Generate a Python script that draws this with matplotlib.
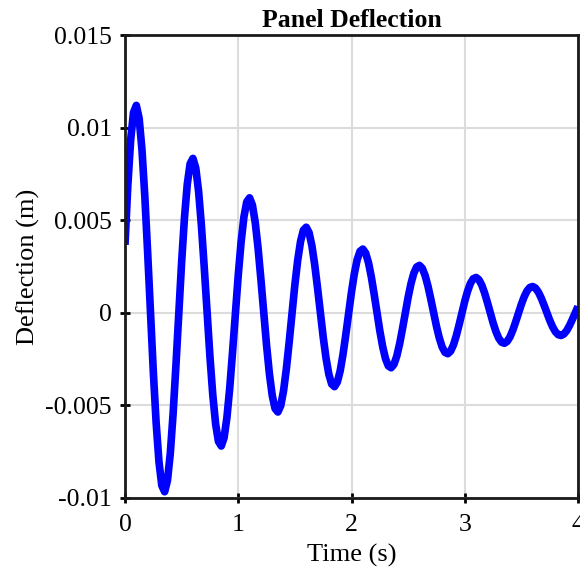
import numpy as np
import matplotlib
matplotlib.use("Agg")
import matplotlib.pyplot as plt

# --- Data (deflection in mm, every 0.025 s) ---
t_start, t_end, n_points = 0.0, 4.0, 161
deflection_mm = [
    3.671, 6.881, 9.332, 10.810, 11.199, 10.496, 8.797, 6.298, 3.262, 0.0,
    -3.167, -5.938, -8.052, -9.328, -9.664, -9.056, -7.590, -5.434, -2.816, 0.0,
    2.733, 5.123, 6.948, 8.048, 8.338, 7.815, 6.550, 4.689, 2.429, 0.0,
    -2.358, -4.421, -5.995, -6.945, -7.195, -6.743, -5.651, -4.046, -2.096, 0.0,
    2.035, 3.814, 5.173, 5.992, 6.208, 5.818, 4.876, 3.491, 1.808, 0.0,
    -1.756, -3.291, -4.463, -5.171, -5.357, -5.020, -4.207, -3.012, -1.561, 0.0,
    1.515, 2.840, 3.851, 4.461, 4.622, 4.332, 3.631, 2.599, 1.346, 0.0,
    -1.307, -2.451, -3.323, -3.850, -3.988, -3.738, -3.133, -2.243, -1.162, 0.0,
    1.128, 2.114, 2.867, 3.321, 3.441, 3.225, 2.703, 1.935, 1.002, 0.0,
    -0.973, -1.824, -2.474, -2.866, -2.969, -2.782, -2.332, -1.670, -0.865, 0.0,
    0.840, 1.574, 2.134, 2.472, 2.561, 2.400, 2.012, 1.440, 0.746, 0.0,
    -0.724, -1.358, -1.842, -2.133, -2.210, -2.071, -1.736, -1.243, -0.644, 0.0,
    0.625, 1.172, 1.589, 1.841, 1.907, 1.787, 1.498, 1.072, 0.556, 0.0,
    -0.539, -1.011, -1.371, -1.588, -1.646, -1.542, -1.292, -0.925, -0.479, 0.0,
    0.465, 0.872, 1.183, 1.370, 1.420, 1.331, 1.115, 0.798, 0.414, 0.0,
    -0.401, -0.753, -1.021, -1.182, -1.225, -1.148, -0.962, -0.689, -0.357, 0.0,
    0.346,
]
x_ticks = [0, 1, 2, 3, 4]
x_tick_labels = ["0", "1", "2", "3", "4"]
y_ticks = [-0.01, -0.005, 0, 0.005, 0.01, 0.015]
y_tick_labels = ["-0.01", "-0.005", "0", "0.005", "0.01", "0.015"]

time_s = np.linspace(t_start, t_end, n_points)
deflection = np.array(deflection_mm) / 1000.0

# --- Plot ---
plt.rcParams["font.family"] = ["Liberation Serif", "DejaVu Serif"]
fig = plt.figure(figsize=(5.8, 5.73), dpi=100)
ax = fig.add_axes([0.2155, 0.1309, 0.7811, 0.808])

ax.plot(time_s, deflection, color="#0000ff", linewidth=5.5, solid_capstyle="butt")

ax.set_xlim(0, 4)
ax.set_ylim(-0.01, 0.015)
ax.set_xticks(x_ticks)
ax.set_xticklabels(x_tick_labels)
ax.set_yticks(y_ticks)
ax.set_yticklabels(y_tick_labels)
ax.tick_params(direction="inout", length=7, width=2, labelsize=18.5, pad=6)
ax.tick_params(axis="x", pad=8)

ax.grid(True, color="#dcdcdc", linewidth=1.5)
ax.set_axisbelow(True)
for s in ax.spines.values():
    s.set_linewidth(2)
    s.set_color("#1a1a1a")

ax.set_xlabel("Time (s)", fontsize=19, labelpad=6)
ax.set_ylabel("Deflection (m)", fontsize=19, labelpad=4)
ax.set_title("Panel Deflection", fontsize=18.5, fontweight="bold", pad=6)

fig.savefig("out.png", dpi=100)
